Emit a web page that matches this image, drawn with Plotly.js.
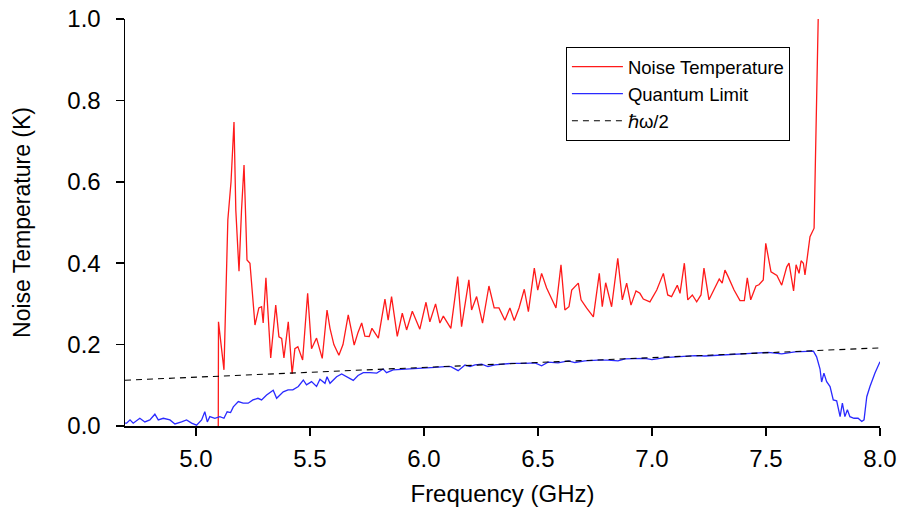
<!DOCTYPE html>
<html>
<head>
<meta charset="utf-8">
<script src="https://cdn.plot.ly/plotly-3.0.1.min.js"></script>
<style>html,body{margin:0;padding:0;background:#fff;}#chart{width:899px;height:515px;}</style>
</head>
<body>
<div id="chart"></div>
<script>
// Noise Temperature (red)
const ntFreq = [5.098,5.099,5.123,5.140,5.154,5.167,5.175,5.189,5.200,5.211,5.219,5.224,5.237,5.259,5.276,5.288,5.295,5.307,5.328,5.350,5.364,5.376,5.386,5.405,5.422,5.434,5.447,5.468,5.490,5.507,5.529,5.554,5.575,5.588,5.605,5.627,5.645,5.668,5.680,5.694,5.711,5.727,5.741,5.760,5.772,5.800,5.829,5.843,5.858,5.883,5.905,5.924,5.949,5.965,5.982,6.009,6.026,6.051,6.070,6.085,6.096,6.118,6.148,6.165,6.197,6.209,6.231,6.257,6.285,6.308,6.329,6.355,6.377,6.396,6.417,6.440,6.458,6.484,6.499,6.516,6.538,6.563,6.579,6.601,6.618,6.636,6.648,6.677,6.689,6.713,6.743,6.769,6.782,6.797,6.823,6.850,6.870,6.889,6.908,6.930,6.947,6.962,6.991,7.021,7.050,7.069,7.086,7.111,7.123,7.142,7.157,7.177,7.196,7.215,7.228,7.250,7.276,7.295,7.308,7.320,7.334,7.360,7.386,7.405,7.418,7.433,7.456,7.469,7.488,7.499,7.522,7.536,7.548,7.569,7.591,7.601,7.621,7.632,7.645,7.654,7.664,7.671,7.693,7.711,7.729];
const ntVals = [0.0,0.256,0.138,0.506,0.60,0.747,0.53,0.38,0.53,0.641,0.50,0.408,0.40,0.248,0.29,0.293,0.253,0.364,0.167,0.297,0.219,0.215,0.167,0.256,0.128,0.19,0.195,0.162,0.326,0.19,0.216,0.166,0.285,0.24,0.20,0.174,0.20,0.273,0.24,0.199,0.23,0.253,0.221,0.22,0.24,0.216,0.312,0.26,0.318,0.22,0.277,0.236,0.282,0.26,0.238,0.304,0.256,0.30,0.253,0.27,0.26,0.24,0.367,0.244,0.359,0.285,0.318,0.253,0.344,0.29,0.29,0.26,0.29,0.259,0.29,0.336,0.281,0.388,0.334,0.375,0.339,0.31,0.29,0.396,0.285,0.293,0.334,0.351,0.31,0.29,0.268,0.375,0.293,0.352,0.293,0.412,0.31,0.351,0.297,0.332,0.326,0.312,0.305,0.334,0.375,0.322,0.318,0.346,0.326,0.40,0.31,0.322,0.305,0.322,0.388,0.31,0.339,0.361,0.351,0.383,0.367,0.334,0.308,0.308,0.364,0.31,0.344,0.347,0.359,0.449,0.379,0.375,0.37,0.346,0.391,0.40,0.332,0.396,0.375,0.406,0.40,0.371,0.465,0.486,1.0];

// Quantum Limit (blue)
const qlFreq = [4.689,4.696,4.711,4.725,4.754,4.776,4.798,4.820,4.835,4.857,4.886,4.908,4.937,4.959,4.981,5.003,5.025,5.039,5.050,5.061,5.083,5.105,5.123,5.137,5.152,5.164,5.186,5.207,5.229,5.250,5.272,5.288,5.310,5.339,5.354,5.383,5.404,5.425,5.449,5.471,5.485,5.507,5.529,5.544,5.566,5.575,5.588,5.617,5.639,5.661,5.690,5.711,5.734,5.763,5.793,5.821,5.836,5.865,5.895,5.939,5.982,6.048,6.092,6.118,6.150,6.180,6.202,6.224,6.253,6.281,6.311,6.385,6.443,6.487,6.516,6.544,6.588,6.633,6.662,6.706,6.763,6.807,6.851,6.882,6.969,7.000,7.057,7.114,7.167,7.189,7.232,7.289,7.378,7.452,7.510,7.569,7.627,7.708,7.722,7.737,7.744,7.754,7.766,7.781,7.795,7.810,7.825,7.835,7.846,7.857,7.868,7.886,7.904,7.920,7.930,7.942,7.956,7.978,8.000];
const qlVals = [0.007,0.007,0.015,0.007,0.019,0.010,0.015,0.029,0.015,0.019,0.015,0.005,0.010,0.015,0.007,0.002,0.015,0.035,0.010,0.023,0.019,0.023,0.019,0.035,0.033,0.047,0.060,0.056,0.056,0.064,0.068,0.064,0.076,0.088,0.068,0.084,0.089,0.089,0.097,0.113,0.101,0.109,0.097,0.115,0.105,0.121,0.105,0.121,0.128,0.121,0.112,0.124,0.131,0.131,0.130,0.140,0.131,0.138,0.139,0.140,0.140,0.144,0.146,0.146,0.136,0.150,0.146,0.150,0.152,0.146,0.150,0.154,0.154,0.155,0.148,0.157,0.155,0.160,0.156,0.160,0.162,0.162,0.160,0.165,0.166,0.163,0.168,0.170,0.172,0.173,0.172,0.174,0.177,0.178,0.181,0.177,0.182,0.184,0.170,0.140,0.108,0.130,0.109,0.097,0.064,0.062,0.023,0.056,0.023,0.040,0.023,0.019,0.019,0.011,0.015,0.072,0.097,0.130,0.158];

// hbar*omega/2 (dashed)
const hwFreq = [4.689, 8.0];
const hwVals = [0.1125, 0.192];

const xTickVals = [5.0,5.5,6.0,6.5,7.0,7.5,8.0];
const yTickVals = [0.0,0.2,0.4,0.6,0.8,1.0];

const traces = [
  {x: ntFreq, y: ntVals, type: 'scatter', mode: 'lines', name: 'Noise Temperature',
   line: {color: '#ff1a1a', width: 1.3}},
  {x: qlFreq, y: qlVals, type: 'scatter', mode: 'lines', name: 'Quantum Limit',
   line: {color: '#2a2aff', width: 1.3}},
  {x: hwFreq, y: hwVals, type: 'scatter', mode: 'lines', name: 'ℏω/2',
   line: {color: '#000000', width: 1.1, dash: '6px,5px'}}
];

const layout = {
  width: 899, height: 515,
  margin: {l: 125, r: 19, t: 19, b: 89},
  paper_bgcolor: '#fff', plot_bgcolor: '#fff',
  font: {family: 'Liberation Sans, Arial, sans-serif', color: '#000', size: 22},
  showlegend: true,
  legend: {x: 0.584, y: 0.931, xanchor: 'left', yanchor: 'top',
    bordercolor: '#000', borderwidth: 1, bgcolor: '#fff', itemwidth: 51,
    font: {size: 18.5, color: '#000'}, tracegroupgap: 0},
  xaxis: {range: [4.689, 8.0], tickvals: xTickVals, tickformat: '.1f',
    showline: true, linecolor: '#000', linewidth: 1.5, mirror: false,
    ticks: 'outside', ticklen: 8, tickwidth: 1.5, tickcolor: '#000',
    showgrid: false, zeroline: false, ticklabelstandoff: 3,
    tickfont: {size: 24},
    title: {text: 'Frequency (GHz)', font: {size: 24}, standoff: 14}},
  yaxis: {range: [0, 1.0], tickvals: yTickVals, tickformat: '.1f',
    showline: true, linecolor: '#000', linewidth: 1.5,
    ticks: 'outside', ticklen: 8, tickwidth: 1.5, tickcolor: '#000',
    showgrid: false, zeroline: false, ticklabelstandoff: 10,
    tickfont: {size: 24},
    title: {text: 'Noise Temperature (K)', font: {size: 23}, standoff: 30}}
};

Plotly.newPlot('chart', traces, layout, {displayModeBar: false, staticPlot: true});
</script>
</body>
</html>
